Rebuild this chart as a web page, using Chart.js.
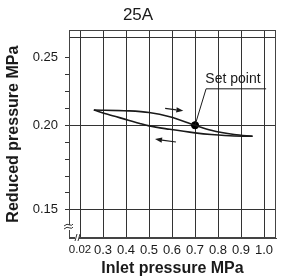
<!DOCTYPE html>
<html>
<head>
<meta charset="utf-8">
<script src="https://cdn.jsdelivr.net/npm/chart.js@4/dist/chart.umd.min.js"></script>
<style>
  html, body { margin: 0; padding: 0; background: #fff; }
  #wrap { width: 282px; height: 279px; }
</style>
</head>
<body>
<div id="wrap"><canvas id="grafico"></canvas></div>
<script>
// === Datos ===
const titulo = '25A';
const xTickValues = [0.2, 0.3, 0.4, 0.5, 0.6, 0.7, 0.8, 0.9, 1.0];
const xTickLabels = ['0.02', '0.3', '0.4', '0.5', '0.6', '0.7', '0.8', '0.9', '1.0'];
const yTickValues = [0.15, 0.16, 0.17, 0.18, 0.19, 0.20, 0.21, 0.22, 0.23, 0.24, 0.252];
const yTickLabels = ['0.15', '', '', '', '', '0.20', '', '', '', '0.25', ''];
const yGridValues = [0.15, 0.20, 0.252];

// curva con presion creciente (flecha a la derecha)
const subidaX = [0.26, 0.41, 0.50, 0.59, 0.70, 0.77, 0.87, 0.95];
const subidaY = [0.209, 0.2085, 0.2075, 0.205, 0.200, 0.197, 0.1945, 0.1935];
// curva con presion decreciente (flecha a la izquierda)
const bajadaX = [0.26, 0.32, 0.41, 0.46, 0.50, 0.59, 0.70, 0.77, 0.87, 0.95];
const bajadaY = [0.209, 0.2065, 0.203, 0.201, 0.1996, 0.1976, 0.1955, 0.1945, 0.1936, 0.1935];

const setPointX = [0.70];
const setPointY = [0.200];
const guiaX = [0.70, 0.748, 1.009];
const guiaY = [0.200, 0.2215, 0.2215];
const etiquetaX = 0.865;
const etiquetaY = 0.225;

const flechaSubidaX = [0.570, 0.649];
const flechaSubidaY = [0.2099, 0.2085];
const flechaBajadaX = [0.617, 0.526];
const flechaBajadaY = [0.1901, 0.1918];

const fuente = '"Liberation Sans", Arial, Helvetica, sans-serif';
const tinta = '#1a1a1a';
const rejilla = '#333';

const puntos = (xs, ys) => xs.map((x, i) => ({ x: x, y: ys[i] }));

// === Extras: marco, flechas, etiqueta, cortes ===
const extras = {
    id: 'extras',
    afterDatasetsDraw(chart) {
        const { ctx, chartArea: a, scales: { x, y } } = chart;
        ctx.save();

        // marco
        ctx.strokeStyle = '#444';
        ctx.lineWidth = 1;
        ctx.strokeRect(Math.round(a.left) + 0.5, Math.round(a.top) + 0.5,
            Math.round(a.right - a.left) - 1, Math.round(a.bottom - a.top) - 1);

        // flechas
        const flecha = (xs, ys) => {
            const x1 = x.getPixelForValue(xs[0]), y1 = y.getPixelForValue(ys[0]);
            const x2 = x.getPixelForValue(xs[1]), y2 = y.getPixelForValue(ys[1]);
            const ang = Math.atan2(y2 - y1, x2 - x1);
            const largo = 7, ancho = 2.6;
            const bx = x2 - largo * Math.cos(ang), by = y2 - largo * Math.sin(ang);
            ctx.strokeStyle = tinta;
            ctx.lineWidth = 1.2;
            ctx.beginPath();
            ctx.moveTo(x1, y1);
            ctx.lineTo(bx, by);
            ctx.stroke();
            ctx.fillStyle = tinta;
            ctx.beginPath();
            ctx.moveTo(x2, y2);
            ctx.lineTo(bx + ancho * Math.sin(ang), by - ancho * Math.cos(ang));
            ctx.lineTo(bx - ancho * Math.sin(ang), by + ancho * Math.cos(ang));
            ctx.closePath();
            ctx.fill();
        };
        flecha(flechaSubidaX, flechaSubidaY);
        flecha(flechaBajadaX, flechaBajadaY);

        // etiqueta
        ctx.fillStyle = tinta;
        ctx.font = '14px ' + fuente;
        ctx.textAlign = 'center';
        ctx.textBaseline = 'alphabetic';
        ctx.fillText('Set point', x.getPixelForValue(etiquetaX), y.getPixelForValue(etiquetaY));

        // simbolos de corte de eje
        ctx.strokeStyle = '#333';
        ctx.lineWidth = 1;
        const by = a.bottom - 11;
        ctx.fillStyle = '#fff';
        ctx.fillRect(a.left - 1, by - 2, 3, 5);
        [0, 3].forEach(d => {
            ctx.beginPath();
            ctx.moveTo(a.left - 5, by - 1 + d);
            ctx.quadraticCurveTo(a.left - 2, by - 4 + d, a.left + 1, by - 2 + d);
            ctx.quadraticCurveTo(a.left + 3, by - 1 + d, a.left + 4, by - 3 + d);
            ctx.stroke();
        });
        const bx = a.left + 7;
        ctx.fillRect(bx - 1, a.bottom - 2, 4, 4);
        [0, 3].forEach(d => {
            ctx.beginPath();
            ctx.moveTo(bx - 1 + d, a.bottom + 3);
            ctx.lineTo(bx + 1 + d, a.bottom - 4);
            ctx.stroke();
        });
        ctx.restore();
    }
};

new Chart(document.getElementById('grafico').getContext('2d'), {
    type: 'scatter',
    data: {
        datasets: [
            {
                data: puntos(subidaX, subidaY),
                showLine: true, borderColor: tinta, borderWidth: 1.6,
                pointRadius: 0, cubicInterpolationMode: 'monotone'
            },
            {
                data: puntos(bajadaX, bajadaY),
                showLine: true, borderColor: tinta, borderWidth: 1.6,
                pointRadius: 0, cubicInterpolationMode: 'monotone'
            },
            {
                data: puntos(guiaX, guiaY),
                showLine: true, borderColor: tinta, borderWidth: 1,
                pointRadius: 0, tension: 0
            },
            {
                data: puntos(setPointX, setPointY),
                pointRadius: 3.6, backgroundColor: '#000', borderColor: '#000'
            }
        ]
    },
    options: {
        responsive: true,
        maintainAspectRatio: false,
        animation: false,
        layout: { padding: { right: 6 } },
        plugins: {
            legend: { display: false },
            tooltip: { enabled: false },
            title: {
                display: true, text: titulo, color: tinta,
                font: { family: fuente, size: 17, weight: 'normal' },
                padding: { top: 5, bottom: 5 }
            }
        },
        scales: {
            x: {
                type: 'linear', min: 0.152, max: 1.052,
                afterBuildTicks: s => { s.ticks = xTickValues.map(v => ({ value: v })); },
                afterFit: s => { s.height = 41; },
                ticks: {
                    color: tinta, padding: 5, maxRotation: 0, autoSkip: false,
                    font: c => ({ family: fuente, size: c.tick && c.tick.value === 0.2 ? 11.5 : 13 }),
                    callback: (v, i) => xTickLabels[i]
                },
                grid: { color: rejilla, lineWidth: 1, drawTicks: false },
                border: { color: '#444' },
                title: {
                    display: true, text: 'Inlet pressure MPa', color: tinta,
                    font: { family: fuente, size: 16, weight: 'bold' },
                    padding: { top: 0, bottom: 1 }
                }
            },
            y: {
                type: 'linear', min: 0.1334, max: 0.256,
                afterBuildTicks: s => { s.ticks = yTickValues.map(v => ({ value: v })); },
                afterFit: s => { s.width = 69; },
                ticks: {
                    color: tinta, padding: 7, autoSkip: false,
                    font: { family: fuente, size: 13 },
                    callback: (v, i) => yTickLabels[i]
                },
                grid: {
                    lineWidth: 1, tickLength: 4,
                    color: c => yGridValues.some(g => Math.abs(g - c.tick.value) < 1e-6) ? rejilla : 'rgba(0,0,0,0)',
                    tickColor: c => Math.abs(c.tick.value - 0.252) < 1e-6 ? 'rgba(0,0,0,0)' : rejilla
                },
                border: { color: '#444' },
                title: {
                    display: true, text: 'Reduced pressure MPa', color: tinta,
                    font: { family: fuente, size: 16, weight: 'bold' },
                    padding: { top: 4, bottom: 0 }
                }
            }
        }
    },
    plugins: [extras]
});
</script>
</body>
</html>
